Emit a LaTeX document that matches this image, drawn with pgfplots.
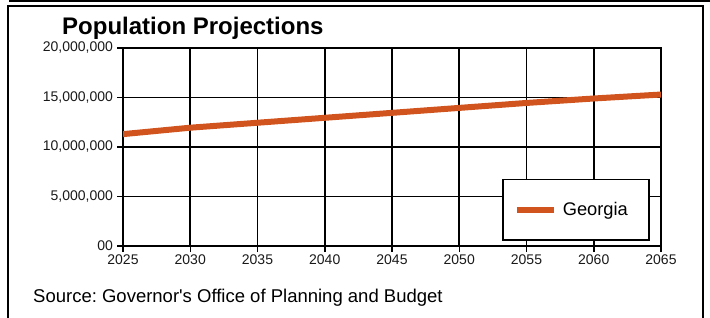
\documentclass[border=0pt]{standalone}
\usepackage{pgfplots}
\pgfplotsset{compat=1.18}
\usepackage{fontspec}
\setmainfont{Liberation Sans}
\frenchspacing
\definecolor{geo}{RGB}{209,84,30}
\begin{document}
\begin{tikzpicture}[x=1pt,y=1pt]
\begin{axis}[
  at={(123pt,71pt)}, anchor=south west,
  scale only axis, width=538pt, height=198pt,
  xmin=2025, xmax=2065, ymin=0, ymax=20000000,
  xtick={2025,2030,...,2065},
  xticklabels={2025,2030,2035,2040,2045,2050,2055,2060,2065},
  ytick={0,5000000,10000000,15000000,20000000},
  yticklabels={00,{5,000,000},{10,000,000},{15,000,000},{20,000,000}},
  scaled y ticks=false,
  tick align=outside, major tick length=6pt,
  tick style={black, line width=1.5pt},
  xtick pos=bottom, ytick pos=left,
  grid=major, major grid style={black, line width=1.8pt},
  axis line style={black, line width=2pt},
  ticklabel style={font=\fontsize{14}{16}\selectfont, text=black!90},
  yticklabel style={xshift=-0.5pt},
  xticklabel style={yshift=1pt},
  legend style={at={(axis description cs:0.7045,0.0253)}, anchor=south west,
    draw=black, line width=1.5pt, inner xsep=11pt, inner ysep=23pt,
    font=\fontsize{18.3}{20}\selectfont,
    nodes={inner xsep=0pt, inner ysep=0pt, text width=75pt, align=left},
    /tikz/every odd column/.append style={column sep=6pt}},
  legend image code/.code={\draw[#1, line width=6pt] (0pt,0pt) -- (37pt,0pt);},
]
\addplot[geo, line width=6pt] coordinates {
  (2025,11300000) (2030,11950000) (2035,12450000) (2040,12950000)
  (2045,13450000) (2050,13950000) (2055,14450000) (2060,14900000)
  (2065,15300000)};
\addlegendentry{Georgia}
\end{axis}
\draw[line width=2pt] (8,-2) -- (8,311) -- (703,311) -- (703,-2);
\draw[line width=1.5pt] (9,316) -- (712,316);
\node[anchor=base west, inner sep=0pt, font=\fontsize{24}{26}\selectfont\bfseries] at (62,283) {Population Projections};
\node[anchor=base west, inner sep=0pt, font=\fontsize{18.5}{20}\selectfont] at (33,15) {Source: Governor\textquotesingle s Office of Planning and Budget};
\pgfresetboundingbox
\path (0,0) rectangle (710,317);
\end{tikzpicture}
\end{document}
